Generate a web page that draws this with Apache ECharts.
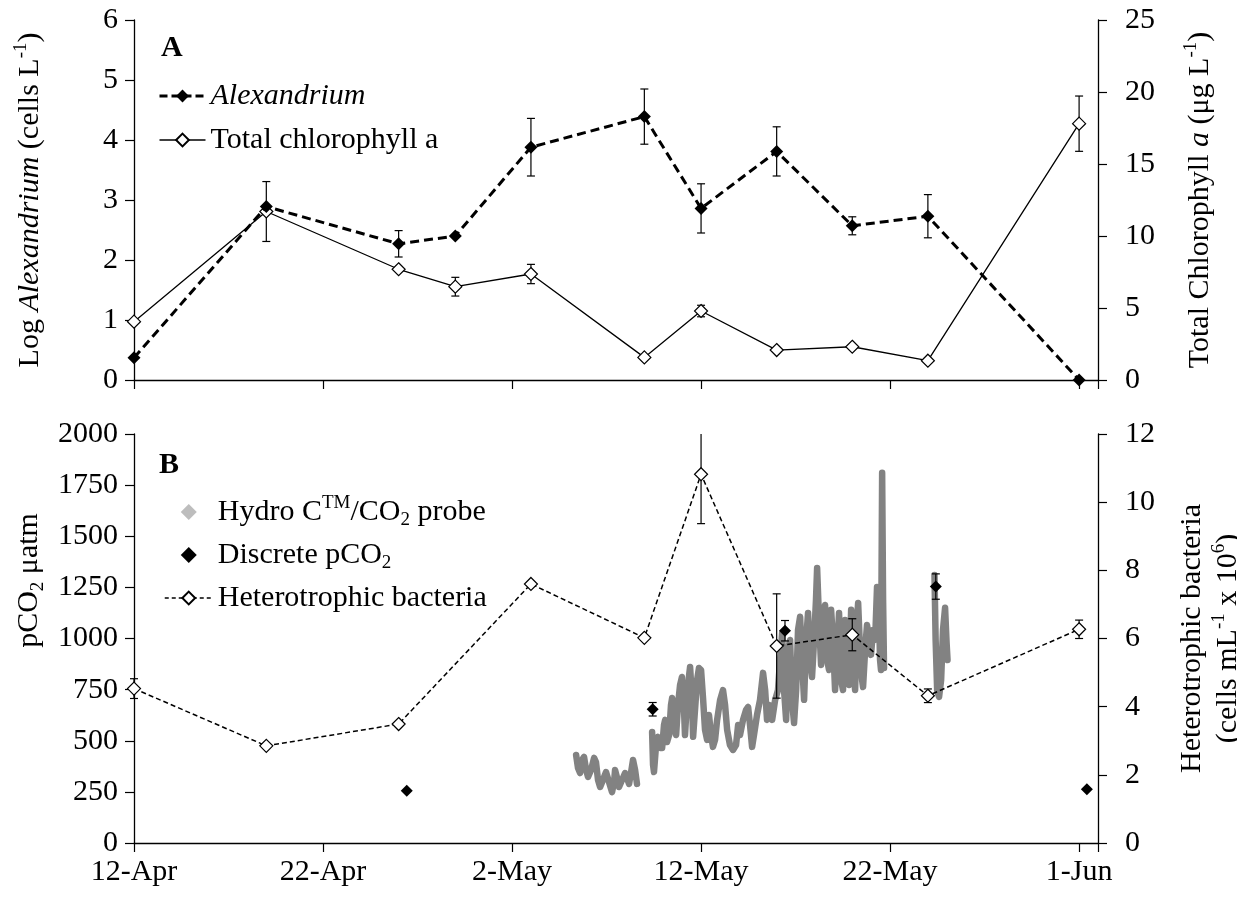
<!DOCTYPE html>
<html><head><meta charset="utf-8">
<script src="https://cdn.jsdelivr.net/npm/echarts@6/dist/echarts.min.js"></script>
<style>html,body{margin:0;padding:0;background:#fff}#c{width:1237px;height:899px}</style>
</head><body><div id="c"></div>
<script>
// ---- data (x = days since 12-Apr) ----
const xTickLabels = ['12-Apr', '22-Apr', '2-May', '12-May', '22-May', '1-Jun'];
const sampleDays = [0, 7, 14, 17, 21, 27, 30, 34, 38, 42, 50];
const alexandrium = [0.37, 2.89, 2.27, 2.40, 3.88, 4.39, 2.86, 3.81, 2.57, 2.73, 0.0];
const alexandriumErr = [0, 0, 0.22, 0, 0.48, 0.46, 0.41, 0.41, 0.15, 0.36, 0];
const chlorophyll = [4.05, 11.7, 7.69, 6.48, 7.36, 1.57, 4.79, 2.08, 2.31, 1.34, 17.8];
const chlorophyllErr = [0, 2.08, 0, 0.65, 0.67, 0, 0.4, 0, 0, 0, 1.92];

const bacteriaDays = [0, 7, 14, 21, 27, 30, 34, 38, 42, 50];
const bacteria = [4.53, 2.85, 3.49, 7.60, 6.02, 10.82, 5.78, 6.11, 4.32, 6.27];
const bacteriaErr = [0.29, 0, 0, 0, 0, 1.45, 1.53, 0.47, 0.2, 0.27];

const discreteDays = [14.43, 27.44, 34.44, 42.42, 50.41];
const discretePCO2 = [256, 654, 1038, 1254, 263];
const discreteErr = [0, 33, 50, 62, 0];

const probeDays = [
  23.39,23.49,23.60,23.70,23.81,23.92,24.02,24.18,24.34,24.44,24.55,24.66,24.81,24.97,25.13,25.29,25.40,25.45,25.56,25.66,25.82,25.98,26.08,26.19,26.30,26.40,26.51,26.61,
  null,
  27.41,27.46,27.51,27.62,27.72,27.83,27.94,28.04,28.10,28.20,
  28.31,28.41,28.47,28.57,28.68,28.78,28.89,28.99,29.10,29.15,
  29.26,29.37,29.42,29.52,29.58,29.68,29.79,29.89,30.00,30.11,
  30.21,30.32,30.42,30.53,30.63,30.74,30.85,31.01,31.16,31.27,
  31.38,31.53,31.69,31.85,31.96,32.06,32.22,32.38,32.49,32.59,
  32.70,32.80,32.96,33.12,33.28,33.39,33.49,33.60,33.76,33.92,
  34.07,34.18,34.29,34.39,34.50,34.60,34.71,34.81,34.92,35.03,
  35.13,35.24,35.34,35.45,35.56,35.66,35.77,35.87,35.98,36.08,
  36.14,36.24,36.35,36.46,36.56,36.67,36.77,36.88,36.98,37.09,
  37.20,37.30,37.41,37.51,37.62,37.72,37.83,37.94,38.04,38.15,
  38.25,38.31,38.41,38.52,38.57,38.68,38.78,38.89,38.99,39.10,
  39.21,39.31,39.42,39.47,39.52,39.58,39.63,39.68,
  null,
  42.35,42.41,42.49,42.59,42.70,42.80,42.91,42.99,43.04
];
const probePCO2 = [
  430,367,342,406,421,357,323,357,416,396,308,274,308,347,298,249,298,357,318,274,308,342,318,289,347,406,357,289,
  null,
  543,382,347,479,519,465,465,577,602,494,
  528,675,709,563,528,675,773,812,651,528,
  700,822,861,700,519,651,797,856,846,700,
  553,504,626,528,470,504,602,700,748,675,
  553,479,455,479,577,528,602,651,665,577,
  470,528,626,700,832,748,602,675,602,700,
  748,895,1027,748,602,944,993,700,587,748,
  1042,1106,895,700,993,1125,895,812,993,1189,
  1345,1091,871,1115,1164,895,846,1140,993,748,
  944,1125,797,748,1091,993,773,1140,895,748,
  1091,1174,944,797,763,944,1066,993,920,1042,
  993,1252,1091,895,846,1810,1189,856,
  null,
  1311,993,748,714,797,1042,1150,978,895
];

// ---- helpers ----
const FONT = "'Liberation Serif', 'Times New Roman', serif";
const FS = 30;
const rich = {
  n: { fontFamily: FONT, fontSize: FS, color: '#000', lineHeight: 36 },
  i: { fontFamily: FONT, fontSize: FS, fontStyle: 'italic', color: '#000', lineHeight: 36 },
  sup: { fontFamily: FONT, fontSize: 19, color: '#000', verticalAlign: 'top', lineHeight: 24 },
  sub: { fontFamily: FONT, fontSize: 19, color: '#000', verticalAlign: 'bottom', lineHeight: 22 }
};
const pairs = (xs, ys) => xs.map((x, i) => [x, ys[i]]);
const errData = (xs, ys, es) => xs.map((x, i) => [x, ys[i] - es[i], ys[i] + es[i], es[i]]).filter(d => d[3] > 0);
const probeData = probeDays.map((d, i) => d === null ? ['-', '-'] : [d, probePCO2[i]]);
// legend diamond centred in the icon box (extra move-to points fix the box size)
const legendDiamond = 'path://M0,0M48,16M24,0L32,8L24,16L16,8Z';

function errRender(params, api) {
  const x = api.value(0), lo = api.value(1), hi = api.value(2);
  const p1 = api.coord([x, hi]), p2 = api.coord([x, lo]);
  const w = 4, st = { stroke: '#000', lineWidth: 1.2 };
  const cs = params.coordSys;
  return {
    type: 'group',
    clipPath: { type: 'rect', shape: { x: cs.x - 10, y: cs.y, width: cs.width + 20, height: cs.height + 10 } },
    children: [
      { type: 'line', shape: { x1: p1[0], y1: p1[1], x2: p2[0], y2: p2[1] }, style: st },
      { type: 'line', shape: { x1: p1[0] - w, y1: p1[1], x2: p1[0] + w, y2: p1[1] }, style: st },
      { type: 'line', shape: { x1: p2[0] - w, y1: p2[1], x2: p2[0] + w, y2: p2[1] }, style: st }
    ]
  };
}

const axisCommon = {
  axisLine: { show: true, onZero: false, lineStyle: { color: '#000', width: 1.3 } },
  axisTick: { show: true, inside: false, length: 9, lineStyle: { color: '#000', width: 1.2 } },
  splitLine: { show: false },
  axisLabel: { fontFamily: FONT, fontSize: FS, color: '#000', margin: 16, formatter: v => String(v) }
};
const yName = (extra) => Object.assign({}, axisCommon, {
  type: 'value', nameLocation: 'middle', nameRotate: 90,
  nameTextStyle: { fontFamily: FONT, fontSize: FS, color: '#000', rich: rich }
}, extra);

const chart = echarts.init(document.getElementById('c'), null, { renderer: 'canvas' });
chart.setOption({
  animation: false,
  backgroundColor: '#fff',
  grid: [
    { left: 134, right: 139, top: 20, height: 360, outerBoundsMode: 'none', containLabel: false },
    { left: 134, right: 139, top: 434, height: 409, outerBoundsMode: 'none', containLabel: false }
  ],
  xAxis: [
    Object.assign({}, axisCommon, { type: 'value', gridIndex: 0, min: 0, max: 51, interval: 10, axisLabel: { show: false } }),
    Object.assign({}, axisCommon, {
      type: 'value', gridIndex: 1, min: 0, max: 51, interval: 10,
      axisLabel: { fontFamily: FONT, fontSize: FS, color: '#000', margin: 14,
        formatter: v => (v % 10 === 0 ? xTickLabels[v / 10] : '') }
    })
  ],
  yAxis: [
    yName({ gridIndex: 0, position: 'left', min: 0, max: 6, interval: 1, nameGap: 86,
      name: '{n|Log }{i|Alexandrium}{n| (cells L}{sup|-1}{n|)}' }),
    yName({ gridIndex: 0, position: 'right', min: 0, max: 25, interval: 5, nameGap: 84,
      axisLabel: Object.assign({}, axisCommon.axisLabel, { margin: 27 }),
      name: '{n|Total Chlorophyll }{i|a}{n| (μg L}{sup|-1}{n|)}' }),
    yName({ gridIndex: 1, position: 'left', min: 0, max: 2000, interval: 250, nameGap: 86,
      nameTextStyle: { fontFamily: FONT, fontSize: FS, color: '#000', rich: rich, padding: [0, 0, 0, 116] },
      name: '{n|pCO}{sub|2}{n| μatm}' }),
    yName({ gridIndex: 1, position: 'right', min: 0, max: 12, interval: 2, nameGap: 76,
      axisLabel: Object.assign({}, axisCommon.axisLabel, { margin: 27 }),
      name: '{n|Heterotrophic bacteria}\n{n|(cells mL}{sup|-1}{n| x 10}{sup|6}{n|)}' })
  ],
  legend: [
    {
      left: 153, top: 76, orient: 'vertical', itemWidth: 46, itemHeight: 16, itemGap: 14,
      selectedMode: false,
      data: [
        { name: 'Alexandrium', lineStyle: { width: 3, type: [8, 4] } },
        { name: 'Total chlorophyll a', lineStyle: { width: 1.3 } }
      ],
      formatter: n => (n === 'Alexandrium' ? '{i|Alexandrium}' : '{n|' + n + '}'),
      textStyle: { fontFamily: FONT, fontSize: FS, color: '#000', rich: rich }
    },
    {
      left: 159, top: 489, orient: 'vertical', itemWidth: 48, itemHeight: 16, itemGap: 10,
      selectedMode: false,
      data: [
        { name: 'Hydro CTM/CO2 probe', icon: legendDiamond, itemStyle: { color: '#bdbdbd', opacity: 1 } },
        { name: 'Discrete pCO2', icon: legendDiamond, itemStyle: { color: '#000', opacity: 1 } },
        { name: 'Heterotrophic bacteria', lineStyle: { width: 1.5, type: [4, 3] } }
      ],
      formatter: n => {
        if (n === 'Hydro CTM/CO2 probe') return '{n|Hydro C}{sup|TM}{n|/CO}{sub|2}{n| probe}';
        if (n === 'Discrete pCO2') return '{n|Discrete pCO}{sub|2}';
        return '{n|' + n + '}';
      },
      textStyle: { fontFamily: FONT, fontSize: FS, color: '#000', rich: rich }
    }
  ],
  graphic: [
    { type: 'text', left: 161, top: 33, style: { text: 'A', fontFamily: FONT, fontSize: FS, fontWeight: 'bold', fill: '#000' } },
    { type: 'text', left: 159, top: 450, style: { text: 'B', fontFamily: FONT, fontSize: FS, fontWeight: 'bold', fill: '#000' } }
  ],
  series: [
    { type: 'custom', name: 'chlErr', xAxisIndex: 0, yAxisIndex: 1, renderItem: errRender, encode: { x: 0, y: [1, 2] },
      data: errData(sampleDays, chlorophyll, chlorophyllErr), z: 2, silent: true },
    { type: 'custom', name: 'alexErr', xAxisIndex: 0, yAxisIndex: 0, renderItem: errRender, encode: { x: 0, y: [1, 2] },
      data: errData(sampleDays, alexandrium, alexandriumErr), z: 2, silent: true },
    { type: 'line', name: 'Total chlorophyll a', xAxisIndex: 0, yAxisIndex: 1, data: pairs(sampleDays, chlorophyll),
      symbol: 'diamond', symbolSize: 13, showAllSymbol: true, z: 3,
      lineStyle: { color: '#000', width: 1.3 },
      itemStyle: { color: '#fff', borderColor: '#000', borderWidth: 1.2 } },
    { type: 'line', name: 'Alexandrium', xAxisIndex: 0, yAxisIndex: 0, data: pairs(sampleDays, alexandrium),
      symbol: 'diamond', symbolSize: 13, showAllSymbol: true, z: 4,
      lineStyle: { color: '#000', width: 3, type: [9, 5] },
      itemStyle: { color: '#000' } },

    { type: 'line', name: 'Hydro CTM/CO2 probe', xAxisIndex: 1, yAxisIndex: 2, data: probeData,
      symbol: 'none', connectNulls: false, z: 1,
      lineStyle: { color: '#828282', width: 6.5, join: 'round', cap: 'round' },
      itemStyle: { color: '#bdbdbd' } },
    { type: 'custom', name: 'discErr', xAxisIndex: 1, yAxisIndex: 2, renderItem: errRender, encode: { x: 0, y: [1, 2] },
      data: errData(discreteDays, discretePCO2, discreteErr), z: 2, silent: true },
    { type: 'scatter', name: 'Discrete pCO2', xAxisIndex: 1, yAxisIndex: 2, data: pairs(discreteDays, discretePCO2),
      symbol: 'diamond', symbolSize: 12, z: 5, itemStyle: { color: '#000', opacity: 1 } },
    { type: 'custom', name: 'bactErr', xAxisIndex: 1, yAxisIndex: 3, renderItem: errRender, encode: { x: 0, y: [1, 2] },
      data: errData(bacteriaDays, bacteria, bacteriaErr), z: 2, silent: true },
    { type: 'line', name: 'Heterotrophic bacteria', xAxisIndex: 1, yAxisIndex: 3, data: pairs(bacteriaDays, bacteria),
      symbol: 'diamond', symbolSize: 13, showAllSymbol: true, z: 4,
      lineStyle: { color: '#000', width: 1.5, type: [5, 3] },
      itemStyle: { color: '#fff', borderColor: '#000', borderWidth: 1.2 } }
  ]
});
</script></body></html>
